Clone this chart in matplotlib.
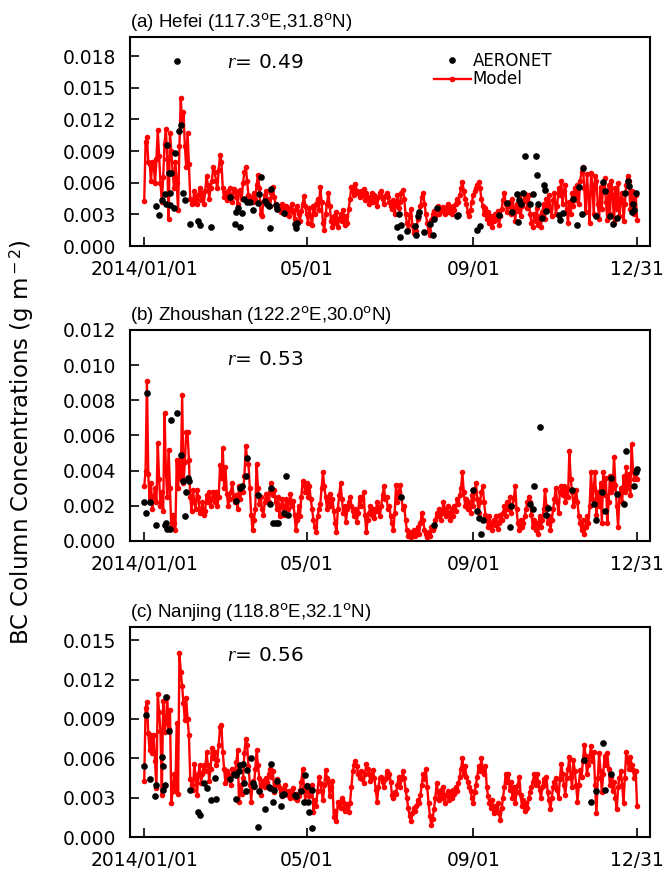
import numpy as np
import matplotlib
matplotlib.use("Agg")
import matplotlib.pyplot as plt

plt.rcParams['font.family'] = ['DejaVu Sans']
plt.rcParams['mathtext.fontset'] = 'custom'
plt.rcParams['mathtext.rm'] = 'DejaVu Sans'
plt.rcParams['mathtext.it'] = 'Liberation Serif:italic'

# daily values, units of 1e-4 g m-2, day 0 = 2014/01/01
hefei_model = [
    43, 99, 103, 80, 78, 62, 80, 76, 60, 82,
    110, 85, 60, 42, 65, 97, 111, 82, 26, 107,
    90, 70, 55, 80, 60, 34, 95, 140, 115, 127,
    95, 75, 107, 78, 45, 40, 42, 52, 45, 40,
    48, 55, 44, 50, 40, 52, 66, 58, 45, 55,
    62, 75, 70, 62, 55, 72, 86, 80, 55, 46,
    50, 44, 52, 55, 48, 42, 54, 52, 46, 40,
    50, 53, 45, 60, 70, 75, 62, 48, 44, 46,
    42, 50, 45, 58, 67, 55, 30, 28, 42, 48,
    52, 40, 45, 38, 50, 56, 46, 40, 35, 38,
    36, 32, 40, 35, 30, 38, 34, 28, 36, 40,
    32, 26, 35, 38, 30, 24, 33, 40, 47, 38,
    30, 22, 36, 28, 20, 38, 30, 40, 45, 34,
    56, 42, 22, 15, 30, 40, 50, 38, 24, 18,
    28, 22, 32, 18, 26, 30, 24, 34, 20, 28,
    22, 35, 45, 56, 52, 48, 59, 52, 50, 46,
    52, 48, 54, 44, 50, 46, 40, 45, 50, 42,
    48, 44, 38, 46, 50, 52, 45, 40, 47, 50,
    46, 42, 38, 35, 44, 30, 40, 48, 36, 42,
    50, 53, 45, 30, 22, 15, 28, 35, 20, 12,
    18, 14, 26, 32, 38, 46, 50, 40, 30, 22,
    14, 10, 25, 30, 33, 28, 35, 38, 30, 36,
    33, 37, 30, 35, 40, 32, 36, 30, 38, 34,
    40, 45, 42, 48, 55, 61, 52, 45, 40, 32,
    28, 34, 42, 48, 52, 55, 58, 61, 55, 45,
    38, 30, 36, 26, 32, 22, 28, 18, 24, 30,
    26, 33, 20, 28, 35, 44, 50, 40, 32, 38,
    42, 30, 45, 36, 24, 40, 33, 46, 28, 38,
    42, 49, 46, 36, 48, 30, 22, 18, 30, 24,
    36, 20, 28, 18, 32, 40, 26, 45, 34, 48,
    36, 28, 44, 50, 30, 38, 55, 48, 62, 40,
    52, 58, 35, 22, 42, 30, 50, 38, 55, 44,
    58, 40, 62, 70, 75, 55, 32, 68, 48, 22,
    69, 58, 30, 66, 62, 40, 26, 56, 35, 60,
    64, 42, 25, 58, 30, 62, 48, 22, 55, 35,
    60, 28, 45, 50, 24, 40, 58, 66, 62, 35,
    52, 45, 30, 48, 25,
]
hefei_obs_day = [9, 11, 13, 15, 16, 17, 18, 19, 19, 20, 22, 23, 24, 26, 27, 29, 30, 34,
                 40, 41, 49, 63, 67, 68, 69, 71, 72, 74, 76, 78, 80, 84, 85, 86, 89, 91,
                 92, 93, 94, 97, 98, 103, 111, 112, 113,
                 187, 188, 189, 190, 194, 200, 201, 202, 203, 207, 211, 213, 214, 216,
                 231, 232, 246, 248, 262, 268, 272, 275, 276, 277, 278, 280, 281, 285,
                 287, 289, 290, 291, 294, 295, 296, 297, 306, 307, 309, 317, 320, 321,
                 323, 324, 334, 339, 340, 344, 346, 349, 355, 357, 358, 360, 361, 362, 363]
hefei_obs = [38, 29, 44, 49, 40, 96, 69, 50, 39, 69, 36, 88, 175, 109, 115, 50, 44, 21,
             24, 20, 18, 46, 21, 32, 36, 18, 31, 45, 42, 42, 34, 41, 49, 65, 43, 40,
             38, 17, 54, 39, 35, 31, 21, 17, 22,
             18, 30, 9, 20, 14, 19, 10, 28, 32, 13, 21, 10, 26, 36,
             28, 29, 15, 19, 29, 41, 32, 49, 23, 44, 40, 50, 85, 40,
             49, 85, 67, 40, 27, 58, 53, 33, 29, 25, 31, 45, 20, 56,
             30, 74, 28, 61, 52, 28, 21, 27, 50, 62, 57, 32, 40, 34, 50]

zhoushan_model = [
    31, 40, 91, 38, 22, 33, 18, 25, 30, 22,
    56, 35, 20, 28, 17, 73, 40, 25, 52, 30,
    8, 15, 10, 6, 46, 30, 46, 35, 83, 33,
    45, 62, 62, 46, 25, 17, 29, 22, 18, 29,
    25, 16, 17, 22, 15, 17, 26, 22, 28, 20,
    24, 28, 22, 28, 20, 25, 43, 36, 53, 30,
    42, 27, 20, 24, 28, 33, 25, 22, 26, 18,
    31, 24, 31, 28, 37, 54, 47, 44, 30, 15,
    6, 12, 18, 44, 30, 21, 25, 18, 15, 22,
    27, 24, 22, 28, 33, 26, 29, 22, 18, 25,
    14, 20, 24, 15, 20, 24, 18, 22, 27, 20,
    23, 15, 6, 12, 20, 14, 25, 34, 32, 28,
    33, 25, 31, 24, 18, 12, 8, 5, 14, 18,
    21, 30, 39, 31, 25, 18, 22, 27, 20, 24,
    17, 10, 5, 18, 26, 33, 24, 16, 20, 11,
    18, 22, 25, 20, 17, 14, 18, 11, 16, 25,
    20, 24, 28, 15, 5, 12, 16, 20, 15, 18,
    13, 17, 22, 18, 14, 20, 26, 31, 24, 25,
    18, 20, 14, 10, 6, 16, 32, 22, 28, 32,
    25, 18, 20, 12, 6, 3, 5, 2, 4, 6,
    3, 5, 8, 4, 10, 16, 12, 6, 4, 2,
    5, 3, 8, 6, 8, 12, 16, 14, 18, 12,
    16, 22, 18, 14, 20, 16, 12, 18, 14, 20,
    17, 24, 21, 26, 30, 39, 28, 20, 24, 18,
    22, 16, 26, 20, 28, 33, 24, 16, 22, 28,
    31, 22, 15, 12, 8, 14, 10, 6, 12, 9,
    14, 7, 10, 15, 12, 16, 20, 14, 22, 18,
    25, 16, 20, 24, 31, 18, 10, 6, 12, 8,
    10, 14, 18, 22, 25, 22, 15, 8, 12, 6,
    10, 4, 14, 8, 12, 18, 29, 20, 10, 14,
    6, 12, 18, 24, 30, 22, 16, 28, 31, 26,
    31, 22, 30, 25, 51, 35, 28, 20, 24, 29,
    22, 14, 10, 6, 12, 4, 8, 14, 10, 20,
    39, 24, 30, 39, 15, 28, 20, 33, 10, 39,
    26, 36, 10, 22, 37, 28, 30, 48, 32, 20,
    8, 26, 30, 22, 37, 28, 42, 30, 38, 26,
    55, 40, 35, 40, 35,
]
zhoushan_obs_day = [0, 1, 2, 4, 9, 15, 16, 17, 19, 20, 24, 27, 29, 30, 31, 32, 33,
                    68, 71, 72, 75, 76, 84, 93, 94, 95, 97, 99, 103, 105, 106,
                    190, 214, 243, 246, 247, 249, 250, 270, 271, 285, 287, 288, 292,
                    297, 298, 316, 332, 334, 338, 340, 345, 349, 354, 356, 362, 363, 364]
zhoushan_obs = [22, 16, 84, 22, 9, 9, 10, 7, 7, 69, 73, 49, 34, 14, 28, 36, 34,
                23, 30, 31, 37, 47, 26, 21, 30, 10, 10, 10, 16, 37, 15,
                25, 9, 29, 17, 13, 4, 12, 8, 20, 21, 18, 31, 65,
                15, 19, 29, 21, 12, 28, 17, 36, 27, 21, 51, 31, 39, 41]

nanjing_model = [
    43, 98, 103, 79, 66, 78, 64, 78, 58, 37,
    109, 95, 81, 32, 104, 80, 87, 107, 82, 97,
    26, 35, 48, 35, 87, 33, 140, 126, 115, 102,
    89, 106, 90, 78, 44, 40, 36, 56, 45, 32,
    48, 55, 41, 48, 55, 50, 65, 55, 43, 52,
    68, 60, 65, 55, 59, 70, 84, 85, 65, 52,
    41, 50, 44, 47, 40, 52, 47, 50, 57, 66,
    27, 40, 33, 45, 64, 75, 70, 54, 40, 27,
    43, 38, 52, 66, 55, 45, 32, 40, 43, 38,
    45, 42, 48, 52, 46, 50, 34, 40, 44, 40,
    37, 34, 31, 36, 40, 35, 32, 35, 30, 33,
    37, 30, 33, 28, 31, 36, 42, 52, 38, 27,
    40, 35, 31, 36, 40, 19, 28, 24, 35, 46,
    41, 35, 28, 40, 51, 45, 42, 31, 38, 43,
    15, 20, 12, 27, 24, 22, 30, 27, 20, 22,
    25, 19, 26, 38, 50, 55, 58, 54, 48, 45,
    50, 44, 41, 48, 56, 52, 48, 43, 46, 51,
    45, 36, 27, 38, 45, 46, 42, 38, 44, 50,
    46, 48, 42, 32, 30, 34, 33, 40, 46, 38,
    44, 50, 45, 36, 30, 22, 16, 12, 18, 22,
    20, 24, 28, 26, 32, 40, 48, 44, 52, 38,
    26, 16, 9, 14, 21, 30, 41, 34, 28, 36,
    30, 38, 26, 32, 35, 28, 34, 30, 36, 33,
    38, 35, 41, 46, 52, 60, 48, 54, 46, 42,
    38, 35, 30, 26, 34, 40, 46, 54, 50, 60,
    52, 48, 54, 38, 31, 26, 22, 28, 18, 24,
    20, 26, 18, 13, 22, 30, 38, 48, 42, 48,
    36, 42, 30, 38, 26, 34, 40, 46, 32, 24,
    28, 20, 26, 22, 30, 34, 38, 42, 48, 40,
    48, 42, 36, 30, 38, 44, 40, 46, 34, 28,
    21, 30, 38, 42, 45, 36, 30, 44, 56, 48,
    40, 32, 45, 52, 61, 46, 38, 59, 50, 40,
    27, 40, 51, 46, 58, 70, 62, 48, 55, 62,
    69, 58, 65, 40, 18, 45, 64, 50, 34, 48,
    62, 55, 64, 52, 40, 46, 35, 42, 30, 21,
    38, 45, 50, 40, 26, 45, 65, 58, 52, 61,
    55, 51, 45, 50, 24,
]
nanjing_obs_day = [0, 1, 4, 8, 9, 13, 14, 14, 15, 16, 18, 34, 40, 41, 44, 46, 49, 52,
                   53, 63, 66, 68, 68, 70, 71, 73, 74, 75, 76, 79, 80, 81, 84, 85, 89,
                   92, 93, 94, 95, 96, 98, 101, 102, 103, 111, 112, 116, 118, 119, 120,
                   121, 122, 124, 124, 325, 330, 334, 339, 340, 345]
nanjing_obs = [54, 93, 44, 31, 40, 61, 54, 36, 40, 107, 81, 36, 19, 17, 41, 37, 28, 45,
               29, 44, 48, 47, 29, 50, 55, 56, 41, 35, 51, 60, 41, 39, 8, 35, 21,
               38, 37, 56, 27, 36, 43, 24, 32, 33, 32, 31, 35, 27, 47, 39,
               27, 19, 36, 7, 59, 27, 35, 72, 36, 48]

titles = ['(a) Hefei (117.3$^{\\rm o}$E,31.8$^{\\rm o}$N)',
          '(b) Zhoushan (122.2$^{\\rm o}$E,30.0$^{\\rm o}$N)',
          '(c) Nanjing (118.8$^{\\rm o}$E,32.1$^{\\rm o}$N)']
r_values = ['0.49', '0.53', '0.56']
tick_days = [0, 120, 243, 364]
tick_labels = ['2014/01/01', '05/01', '09/01', '12/31']

panels = [
    (hefei_model, hefei_obs_day, hefei_obs, 0.0198, np.arange(0, 0.0181, 0.003), 0.88),
    (zhoushan_model, zhoushan_obs_day, zhoushan_obs, 0.012, np.arange(0, 0.0121, 0.002), 0.858),
    (nanjing_model, nanjing_obs_day, nanjing_obs, 0.016, np.arange(0, 0.0151, 0.003), 0.867),
]
boxes = [[0.1958, 0.7182, 0.783, 0.2394],
         [0.1958, 0.3803, 0.783, 0.2417],
         [0.1958, 0.0412, 0.783, 0.2405]]

fig = plt.figure(figsize=(6.64, 8.73), dpi=100)

for i, (model, oday, obs, ytop, yticks, ry) in enumerate(panels):
    ax = fig.add_axes(boxes[i])
    days = np.arange(len(model))
    ax.plot(days, np.array(model) * 1e-4, color='#ff0000', lw=1.7,
            marker='o', ms=4.0, mew=0, label='Model')
    ax.plot(oday, np.array(obs) * 1e-4, 'o', color='black', ms=4.8, mew=0,
            label='AERONET')
    ax.set_xlim(-10.5, 373.5)
    ax.set_ylim(0, ytop)
    ax.set_yticks(yticks)
    ax.set_yticklabels(['%.3f' % v for v in yticks])
    ax.set_xticks(tick_days)
    ax.set_xticklabels(tick_labels)
    ax.tick_params(direction='in', length=6.5, width=1.2, labelsize=13.5, pad=10,
                   top=False, right=False)
    for s in ax.spines.values():
        s.set_linewidth(1.5)
    ax.set_title(titles[i], loc='left', fontsize=13.5, pad=7,
                 fontfamily='Liberation Sans')
    ax.text(0.187, ry, '$r$= ' + r_values[i], transform=ax.transAxes,
            fontsize=14.5, va='center')
    if i == 0:
        h, l = ax.get_legend_handles_labels()
        ax.legend(h[::-1], l[::-1], loc='upper left', bbox_to_anchor=(0.585, 0.93),
                  frameon=False, fontsize=12, handlelength=2.2, handletextpad=0.1,
                  borderpad=0, borderaxespad=0, labelspacing=0.05, numpoints=1)

fig.text(0.033, 0.494, 'BC Column Concentrations (g m$^{\\rm -2}$)', rotation=90,
         fontsize=16.5, va='center', ha='center')

fig.savefig('out.png', dpi=100)
